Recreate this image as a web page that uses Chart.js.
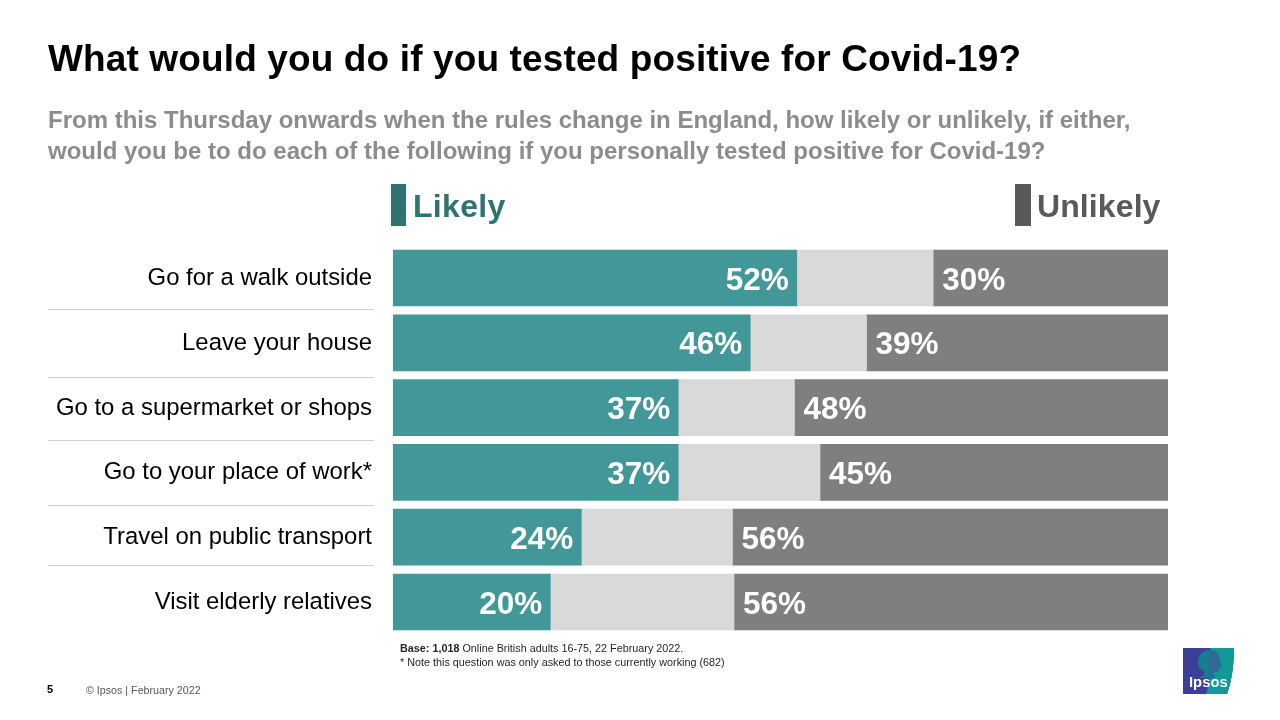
<!DOCTYPE html>
<html><head><meta charset="utf-8">
<script src="https://cdn.jsdelivr.net/npm/chart.js@4/dist/chart.umd.min.js"></script>
<style>
html,body{margin:0;padding:0;background:#fff;width:1280px;height:720px;overflow:hidden}
body{position:relative;font-family:"Liberation Sans",Arial,sans-serif}
canvas{position:absolute;left:0;top:0}
.t{position:absolute;white-space:nowrap;line-height:1}
.r{position:absolute;height:1px;background:#d0d0d0;left:48px;width:326px}
</style></head><body>
<canvas id="c" width="1280" height="720"></canvas>
<div class="t" style="left:48px;top:40px;font-size:37px;font-weight:700;letter-spacing:.13px;color:#000">What would you do if you tested positive for Covid-19?</div>
<div class="t" style="left:48px;top:108px;font-size:24px;font-weight:700;color:#8c8c8c">From this Thursday onwards when the rules change in England, how likely or unlikely, if either,</div>
<div class="t" style="left:48px;top:139px;font-size:24px;font-weight:700;color:#8c8c8c">would you be to do each of the following if you personally tested positive for Covid-19?</div>
<div style="position:absolute;left:391px;top:184px;width:15px;height:42px;background:#2f7373"></div>
<div class="t" style="left:413px;top:190px;font-size:32px;font-weight:700;letter-spacing:.3px;color:#2f7373">Likely</div>
<div style="position:absolute;left:1015px;top:184px;width:16px;height:42px;background:#595959"></div>
<div class="t" style="left:1037px;top:190px;font-size:32px;font-weight:700;letter-spacing:.1px;color:#595959">Unlikely</div>
<div class="r" style="top:309px"></div><div class="r" style="top:377px"></div><div class="r" style="top:440px"></div><div class="r" style="top:505px"></div><div class="r" style="top:565px"></div>
<div class="t" style="left:400px;top:643px;font-size:10.8px;color:#262626"><b>Base: 1,018</b> Online British adults 16-75, 22 February 2022.</div>
<div class="t" style="left:400px;top:657px;font-size:10.8px;color:#262626">* Note this question was only asked to those currently working (682)</div>
<div class="t" style="left:47px;top:684px;font-size:11px;font-weight:700;color:#000">5</div>
<div class="t" style="left:86px;top:685px;font-size:10.7px;color:#595959">© Ipsos | February 2022</div>
<svg style="position:absolute;left:1183px;top:648px" width="52" height="46" viewBox="0 0 52 46">
<defs><clipPath id="h"><path d="M15 14C15 6 21 2 27 2C33 2 37 6 37 12C37 13 39 16 39 17C38 18 37 18 37 19C37 22 35 25 31 24C30 27 31 29 33 30H16C20 28 22 26 21 23C18 22 15 19 15 14Z"/></clipPath></defs>
<path d="M0 0H51C51 16 49 32 44 46H0Z" fill="#3b3f98"/>
<path d="M27 0H51C51 16 49 32 44 46H23C27 34 30 20 27 0Z" fill="#0f9a96"/>
<g clip-path="url(#h)"><rect x="0" y="0" width="26" height="32" fill="#147f8e"/><rect x="26" y="0" width="26" height="32" fill="#2f6a94"/></g>
<text x="6" y="39" font-family="Liberation Sans" font-size="14.8" font-weight="700" fill="#fff">Ipsos</text>
</svg>
<script>
const categories=["Go for a walk outside","Leave your house","Go to a supermarket or shops","Go to your place of work*","Travel on public transport","Visit elderly relatives"];
const likely=[52.1,46.1,36.8,36.8,24.3,20.3];
const neither=[17.6,15,15,18.3,19.5,23.7];
const unlikely=[30.3,38.9,48.2,44.9,56.2,56];
const labelPlugin={id:'labels',afterDatasetsDraw(chart){
  const g=chart.ctx;g.save();g.fillStyle='#fff';g.font='700 31.5px "Liberation Sans"';g.textBaseline='middle';
  chart.getDatasetMeta(0).data.forEach((b,i)=>{g.textAlign='right';g.fillText(Math.round(likely[i])+'%',b.x-8,b.y+3);});
  chart.getDatasetMeta(2).data.forEach((b,i)=>{g.textAlign='left';g.fillText(Math.round(unlikely[i])+'%',b.base+9,b.y+3);});
  g.restore();
}};
new Chart(document.getElementById('c'),{type:'bar',plugins:[labelPlugin],
 data:{labels:categories,datasets:[
  {label:'Likely',data:likely,backgroundColor:'#429899'},
  {label:'Neither',data:neither,backgroundColor:'#d9d9d9'},
  {label:'Unlikely',data:unlikely,backgroundColor:'#7f7f7f'}]},
 options:{indexAxis:'y',responsive:false,animation:false,devicePixelRatio:1,
  layout:{padding:{left:0,right:112,top:245.6,bottom:85.6}},
  plugins:{legend:{display:false},tooltip:{enabled:false}},
  datasets:{bar:{barThickness:56,borderWidth:0}},
  scales:{
   x:{display:false,stacked:true,min:0,max:100},
   y:{stacked:true,afterFit(s){s.width=393;},border:{display:false},grid:{display:false,drawTicks:false},
      ticks:{padding:21,labelOffset:0.5,color:'#000',font:{family:'"Liberation Sans"',size:23.9}}}
  }}});
</script>
</body></html>
